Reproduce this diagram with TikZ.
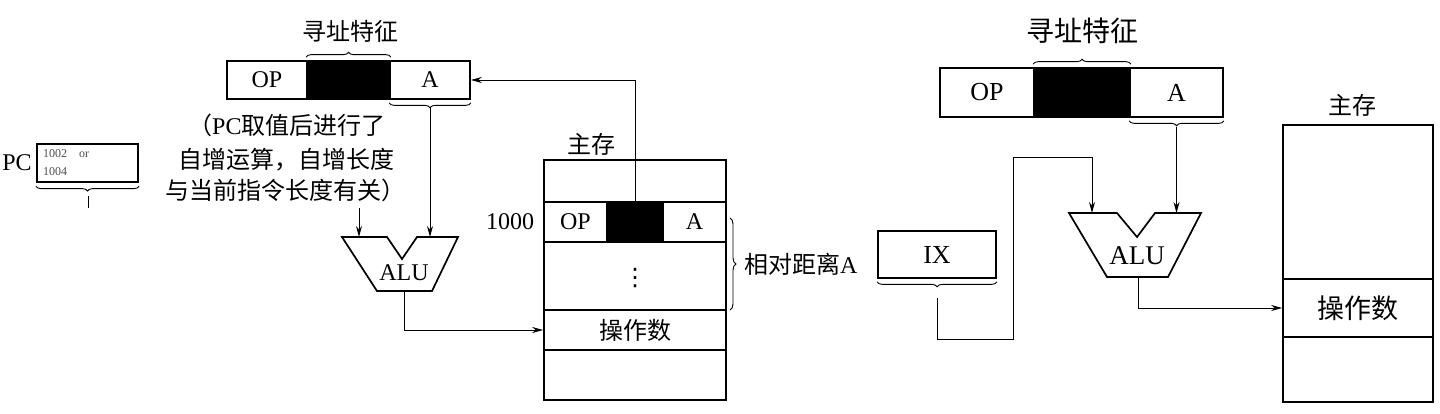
\documentclass[tikz,border=0pt]{standalone}
\usepackage{fontspec}
\setmainfont{Liberation Serif}
\newfontfamily\cjk{Noto Sans CJK SC}
\newfontfamily\lat{Liberation Serif}
\newfontfamily\dej{DejaVu Sans}
\usetikzlibrary{arrows.meta,decorations.pathreplacing}
\begin{document}
\begin{tikzpicture}[x=1pt,y=-1pt,
  cell/.style={draw,line width=1.7pt,inner sep=0pt},
  lt/.style={font=\fontsize{24}{28}\selectfont},
  rt/.style={font=\fontsize{26}{30}\selectfont},
  cj/.style={font=\cjk\fontsize{24}{28}\selectfont},
  cjR/.style={font=\cjk\fontsize{27}{31}\selectfont},
  brc/.style={decorate,decoration={brace,amplitude=5pt,raise=3pt},line width=0.9pt},
  ln/.style={line width=1pt},
  arr/.style={line width=1pt,-{Stealth[length=11pt,width=6pt]}},
  alu/.style={draw,line width=1.7pt,line join=miter}]
\useasboundingbox (0,0) rectangle (1440,413);

% ---------------- left panel ----------------
% instruction register
\node[cell,lt,minimum width=80pt,minimum height=38pt] (lop) at (267,80) {OP};
\node[cell,fill=black,minimum width=83pt,minimum height=38pt] (lbk) at (348.5,80) {};
\node[cell,lt,minimum width=80pt,minimum height=38pt] (la) at (430,80) {A};
\draw[brc] (lbk.north west) -- (lbk.north east);
\node[cj] (lfeat) at (350,31) {寻址特征};
\draw[brc] (la.south east) -- (la.south west);
\coordinate (laT) at (430,108);

% annotation
\node[cj,anchor=west,inner sep=0pt] (n1) at (188,125) {（{\lat PC}取值后进行了};
\node[cj,anchor=west,inner sep=0pt] (n2) at (178,160) {自增运算，自增长度};
\node[cj,anchor=west,inner sep=0pt] (n3) at (165,190) {与当前指令长度有关）};
\coordinate (annT) at (359,208);

% PC
\node[lt] (pcl) at (17,163) {PC};
\node[draw,line width=2.2pt,minimum width=101pt,minimum height=38pt,inner sep=0pt] (pc) at (87.5,163) {};
\node[anchor=west,inner sep=0pt,text=black!70,font=\fontsize{12}{14}\selectfont] (pc1) at (43,154) {1002\quad or};
\node[anchor=west,inner sep=0pt,text=black!70,font=\fontsize{12}{14}\selectfont] (pc2) at (43,172) {1004};
\draw[brc] (pc.south east) -- (pc.south west);
\coordinate (pcT) at (88,196);
\coordinate (pcE) at (88,208);
\draw[ln] (pcT) -- (pcE);

% ALU left
\coordinate (laluI1) at (359,237);
\coordinate (laluI2) at (430,237);
\coordinate (laluO) at (404,291);
\draw[alu] (342,237) -- (387,237) -- (402,259) -- (417,237) -- (458,237) -- (432,291) -- (377,291) -- cycle;
\node[lt] (lalu) at (404,273) {ALU};
\draw[arr] (annT) -- (laluI1);
\draw[arr] (laT) -- (laluI2);

% memory left
\node[cj] (lmlab) at (591,144) {主存};
\node[cell,minimum width=182pt,minimum height=42pt] (lm1) at (635,181) {};
\node[cell,lt,minimum width=63pt,minimum height=40pt] (lmop) at (575.5,222) {OP};
\node[cell,fill=black,minimum width=56pt,minimum height=40pt] (lmbk) at (635,222) {};
\node[cell,lt,minimum width=63pt,minimum height=40pt] (lma) at (694.5,222) {A};
\node[cell,minimum width=182pt,minimum height=68pt] (lm3) at (635,276) {};
\node[font=\dej\fontsize{24}{28}\selectfont,inner sep=0pt] (dots) at (635,278) {⋮};
\node[cell,cj,minimum width=182pt,minimum height=40pt] (lm4) at (635,330) {操作数};
\node[cell,minimum width=182pt,minimum height=50pt] (lm5) at (635,375) {};
\node[lt] (l1000) at (510,222) {1000};
\draw[decorate,decoration={brace,amplitude=6pt,raise=4pt},line width=0.9pt] (726,218) -- (726,310);
\node[cj,anchor=west,inner sep=0pt] (rel) at (744,264) {相对距离{\lat A}};

\draw[arr] (lmbk.north) |- (la.east);
\draw[arr] (laluO) |- (lm4.west);

% ---------------- right panel ----------------
\node[cell,rt,minimum width=94pt,minimum height=49pt] (rop) at (987,92.5) {OP};
\node[cell,fill=black,minimum width=96pt,minimum height=49pt] (rbk) at (1082,92.5) {};
\node[cell,rt,minimum width=93pt,minimum height=49pt] (ra) at (1176.5,92.5) {A};
\draw[brc] (rbk.north west) -- (rbk.north east);
\node[font=\cjk\fontsize{28}{32}\selectfont] (rfeat) at (1082,31) {寻址特征};
\draw[brc] (ra.south east) -- (ra.south west);
\coordinate (raT) at (1176.5,127);

% IX
\node[cell,rt,minimum width=118pt,minimum height=47pt] (ix) at (937,254.5) {IX};
\draw[brc] (ix.south east) -- (ix.south west);
\coordinate (ixT) at (937,298);

% ALU right
\coordinate (raluI1) at (1092,213);
\coordinate (raluI2) at (1176.5,213);
\coordinate (raluO) at (1138,277);
\draw[alu] (1069,213) -- (1117,213) -- (1137,237) -- (1155,213) -- (1201,213) -- (1168,277) -- (1107,277) -- cycle;
\node[font=\fontsize{27}{31}\selectfont] (ralu) at (1137,256) {ALU};
\draw[arr] (raT) -- (raluI2);
\draw[arr] (ixT) -- ++(0,41) -| ++(76,-182) -| (raluI1);

% memory right
\node[cj] (rmlab) at (1352,105) {主存};
\node[cell,minimum width=150pt,minimum height=154pt] (rm1) at (1358,202) {};
\node[cell,cjR,minimum width=150pt,minimum height=58pt] (rm2) at (1358,308) {操作数};
\node[cell,minimum width=150pt,minimum height=65pt] (rm3) at (1358,369.5) {};
\draw[arr] (raluO) |- (rm2.west);
\end{tikzpicture}
\end{document}
